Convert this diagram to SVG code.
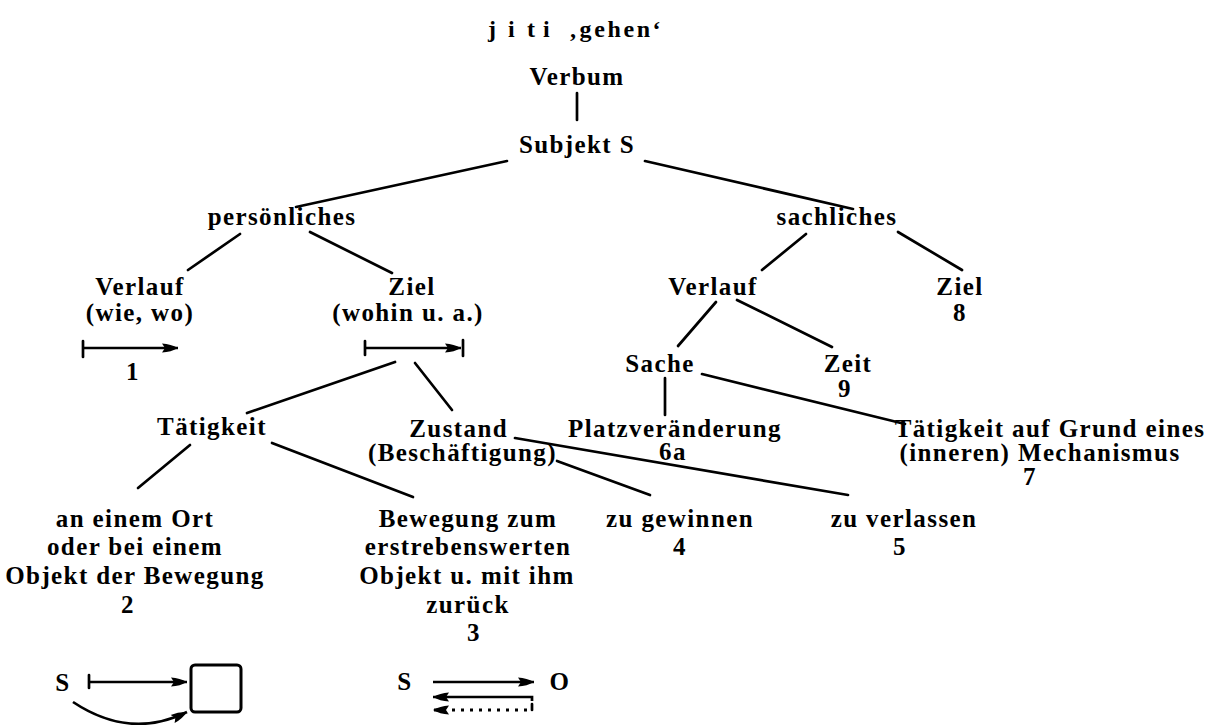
<svg xmlns="http://www.w3.org/2000/svg" width="1211" height="725" viewBox="0 0 1211 725">
  <defs>
    <style>
      .t { font-family: "Liberation Serif", "Times New Roman", serif; font-size: 25px; font-weight: bold; letter-spacing: 1.4px; text-anchor: middle; fill: #000; }
      .e { text-anchor: end; }
      .hd { font-size: 24px; letter-spacing: 2.6px; text-anchor: start; }
      .ln { stroke: #000; stroke-width: 2.7; fill: none; stroke-linecap: round; }
      .ar { stroke: #000; stroke-width: 2.7; fill: none; marker-end: url(#head); }
      .dot { stroke: #000; stroke-width: 3; fill: none; stroke-dasharray: 3 6; marker-end: url(#head); }
      .box { stroke: #000; stroke-width: 3; fill: #fff; }
    </style>
    <marker id="head" markerUnits="userSpaceOnUse" markerWidth="17" markerHeight="11" refX="16" refY="5.5" orient="auto">
      <path d="M0,1 Q9,1.5 16,5.5 Q9,9.5 0,10 L3,5.5 z" fill="#000"/>
    </marker>
  </defs>
  <rect width="1211" height="725" fill="#fff"/>

  <!-- heading -->
  <g id="title">
    <text class="t hd"><tspan x="488" y="37">j</tspan><tspan x="508" y="37">i</tspan><tspan x="527" y="37">t</tspan><tspan x="543" y="37">i</tspan><tspan x="569" y="37">‚gehen‘</tspan></text>
  </g>

  <!-- tree nodes -->
  <g id="verbum"><text class="t" x="577" y="85">Verbum</text></g>
  <g id="subjekt"><text class="t" x="577" y="153">Subjekt S</text></g>
  <g id="persoenlich"><text class="t" x="282" y="225">persönliches</text></g>
  <g id="sachlich"><text class="t" x="837" y="225">sachliches</text></g>

  <g id="p-verlauf">
    <text class="t" x="140" y="295">Verlauf</text>
    <text class="t" x="140" y="321">(wie, wo)</text>
    <text class="t" x="133" y="380">1</text>
  </g>
  <g id="p-ziel">
    <text class="t" x="412" y="295">Ziel</text>
    <text class="t" x="408" y="321">(wohin u. a.)</text>
  </g>
  <g id="s-verlauf"><text class="t" x="713" y="295">Verlauf</text></g>
  <g id="s-ziel">
    <text class="t" x="960" y="295">Ziel</text>
    <text class="t" x="960" y="321">8</text>
  </g>
  <g id="sache"><text class="t" x="660" y="372">Sache</text></g>
  <g id="zeit">
    <text class="t" x="848" y="372">Zeit</text>
    <text class="t" x="845" y="397">9</text>
  </g>
  <g id="platz">
    <text class="t" x="675" y="437">Platzveränderung</text>
    <text class="t" x="673" y="460">6a</text>
  </g>
  <g id="mechanismus">
    <text class="t" x="1050" y="437">Tätigkeit auf Grund eines</text>
    <text class="t" x="1040" y="461">(inneren) Mechanismus</text>
    <text class="t" x="1030" y="485">7</text>
  </g>
  <g id="taetigkeit"><text class="t" x="212" y="435">Tätigkeit</text></g>
  <g id="zustand">
    <text class="t e" x="508" y="437">Zustand</text>
    <text class="t e" x="557" y="461">(Beschäftigung)</text>
  </g>
  <g id="ort">
    <text class="t" x="135" y="527">an einem Ort</text>
    <text class="t" x="135" y="555">oder bei einem</text>
    <text class="t" x="135" y="584">Objekt der Bewegung</text>
    <text class="t" x="128" y="613">2</text>
  </g>
  <g id="bewegung">
    <text class="t" x="468" y="527">Bewegung zum</text>
    <text class="t" x="468" y="555">erstrebenswerten</text>
    <text class="t" x="467" y="584">Objekt u. mit ihm</text>
    <text class="t" x="468" y="613">zurück</text>
    <text class="t" x="474" y="641">3</text>
  </g>
  <g id="gewinnen">
    <text class="t" x="680" y="527">zu gewinnen</text>
    <text class="t" x="680" y="555">4</text>
  </g>
  <g id="verlassen">
    <text class="t" x="904" y="527">zu verlassen</text>
    <text class="t" x="900" y="555">5</text>
  </g>

  <!-- connectors of the tree -->
  <g id="connectors">
    <line class="ln" x1="577" y1="93" x2="577" y2="120"/>
    <line class="ln" x1="507" y1="161" x2="296" y2="207"/>
    <line class="ln" x1="645" y1="161" x2="853" y2="209"/>
    <line class="ln" x1="240" y1="234" x2="188" y2="270"/>
    <line class="ln" x1="310" y1="232" x2="392" y2="273"/>
    <line class="ln" x1="806" y1="234" x2="762" y2="270"/>
    <line class="ln" x1="898" y1="232" x2="962" y2="270"/>
    <line class="ln" x1="395" y1="362" x2="247" y2="413"/>
    <line class="ln" x1="415" y1="363" x2="452" y2="410"/>
    <line class="ln" x1="716" y1="302" x2="678" y2="346"/>
    <line class="ln" x1="737" y1="300" x2="832" y2="347"/>
    <line class="ln" x1="665" y1="378" x2="665" y2="415"/>
    <line class="ln" x1="702" y1="374" x2="905" y2="424"/>
    <line class="ln" x1="190" y1="445" x2="138" y2="488"/>
    <line class="ln" x1="272" y1="443" x2="413" y2="497"/>
    <line class="ln" x1="515" y1="438" x2="848" y2="495"/>
    <line class="ln" x1="557" y1="461" x2="650" y2="495"/>
  </g>

  <!-- direction signs under Verlauf and Ziel -->
  <g id="sign-verlauf">
    <line class="ln" x1="83" y1="341" x2="83" y2="357"/>
    <line class="ar" x1="83" y1="348" x2="178" y2="348"/>
  </g>
  <g id="sign-ziel">
    <line class="ln" x1="365" y1="341" x2="365" y2="355"/>
    <line class="ar" x1="365" y1="348" x2="461" y2="348"/>
    <line class="ln" x1="463" y1="340" x2="463" y2="356"/>
  </g>

  <!-- sketch for 2: movement at a place or at an object -->
  <g id="sketch-2">
    <text class="t" x="63" y="691">S</text>
    <line class="ln" x1="89" y1="675" x2="89" y2="688"/>
    <line class="ar" x1="89" y1="682" x2="187" y2="682"/>
    <rect class="box" x="191" y="665" width="50" height="47" rx="4"/>
    <path class="ar" d="M73,702 Q130,740 187,712"/>
  </g>

  <!-- sketch for 3: to the object and back -->
  <g id="sketch-3">
    <text class="t" x="405" y="690">S</text>
    <text class="t" x="560" y="690">O</text>
    <line class="ar" x1="433" y1="682" x2="534" y2="682"/>
    <path class="ar" d="M532,701 L532,697 L433,697"/>
    <line class="ln" x1="532" y1="704" x2="532" y2="710"/>
    <line class="dot" x1="527" y1="710" x2="433" y2="710"/>
  </g>
</svg>
